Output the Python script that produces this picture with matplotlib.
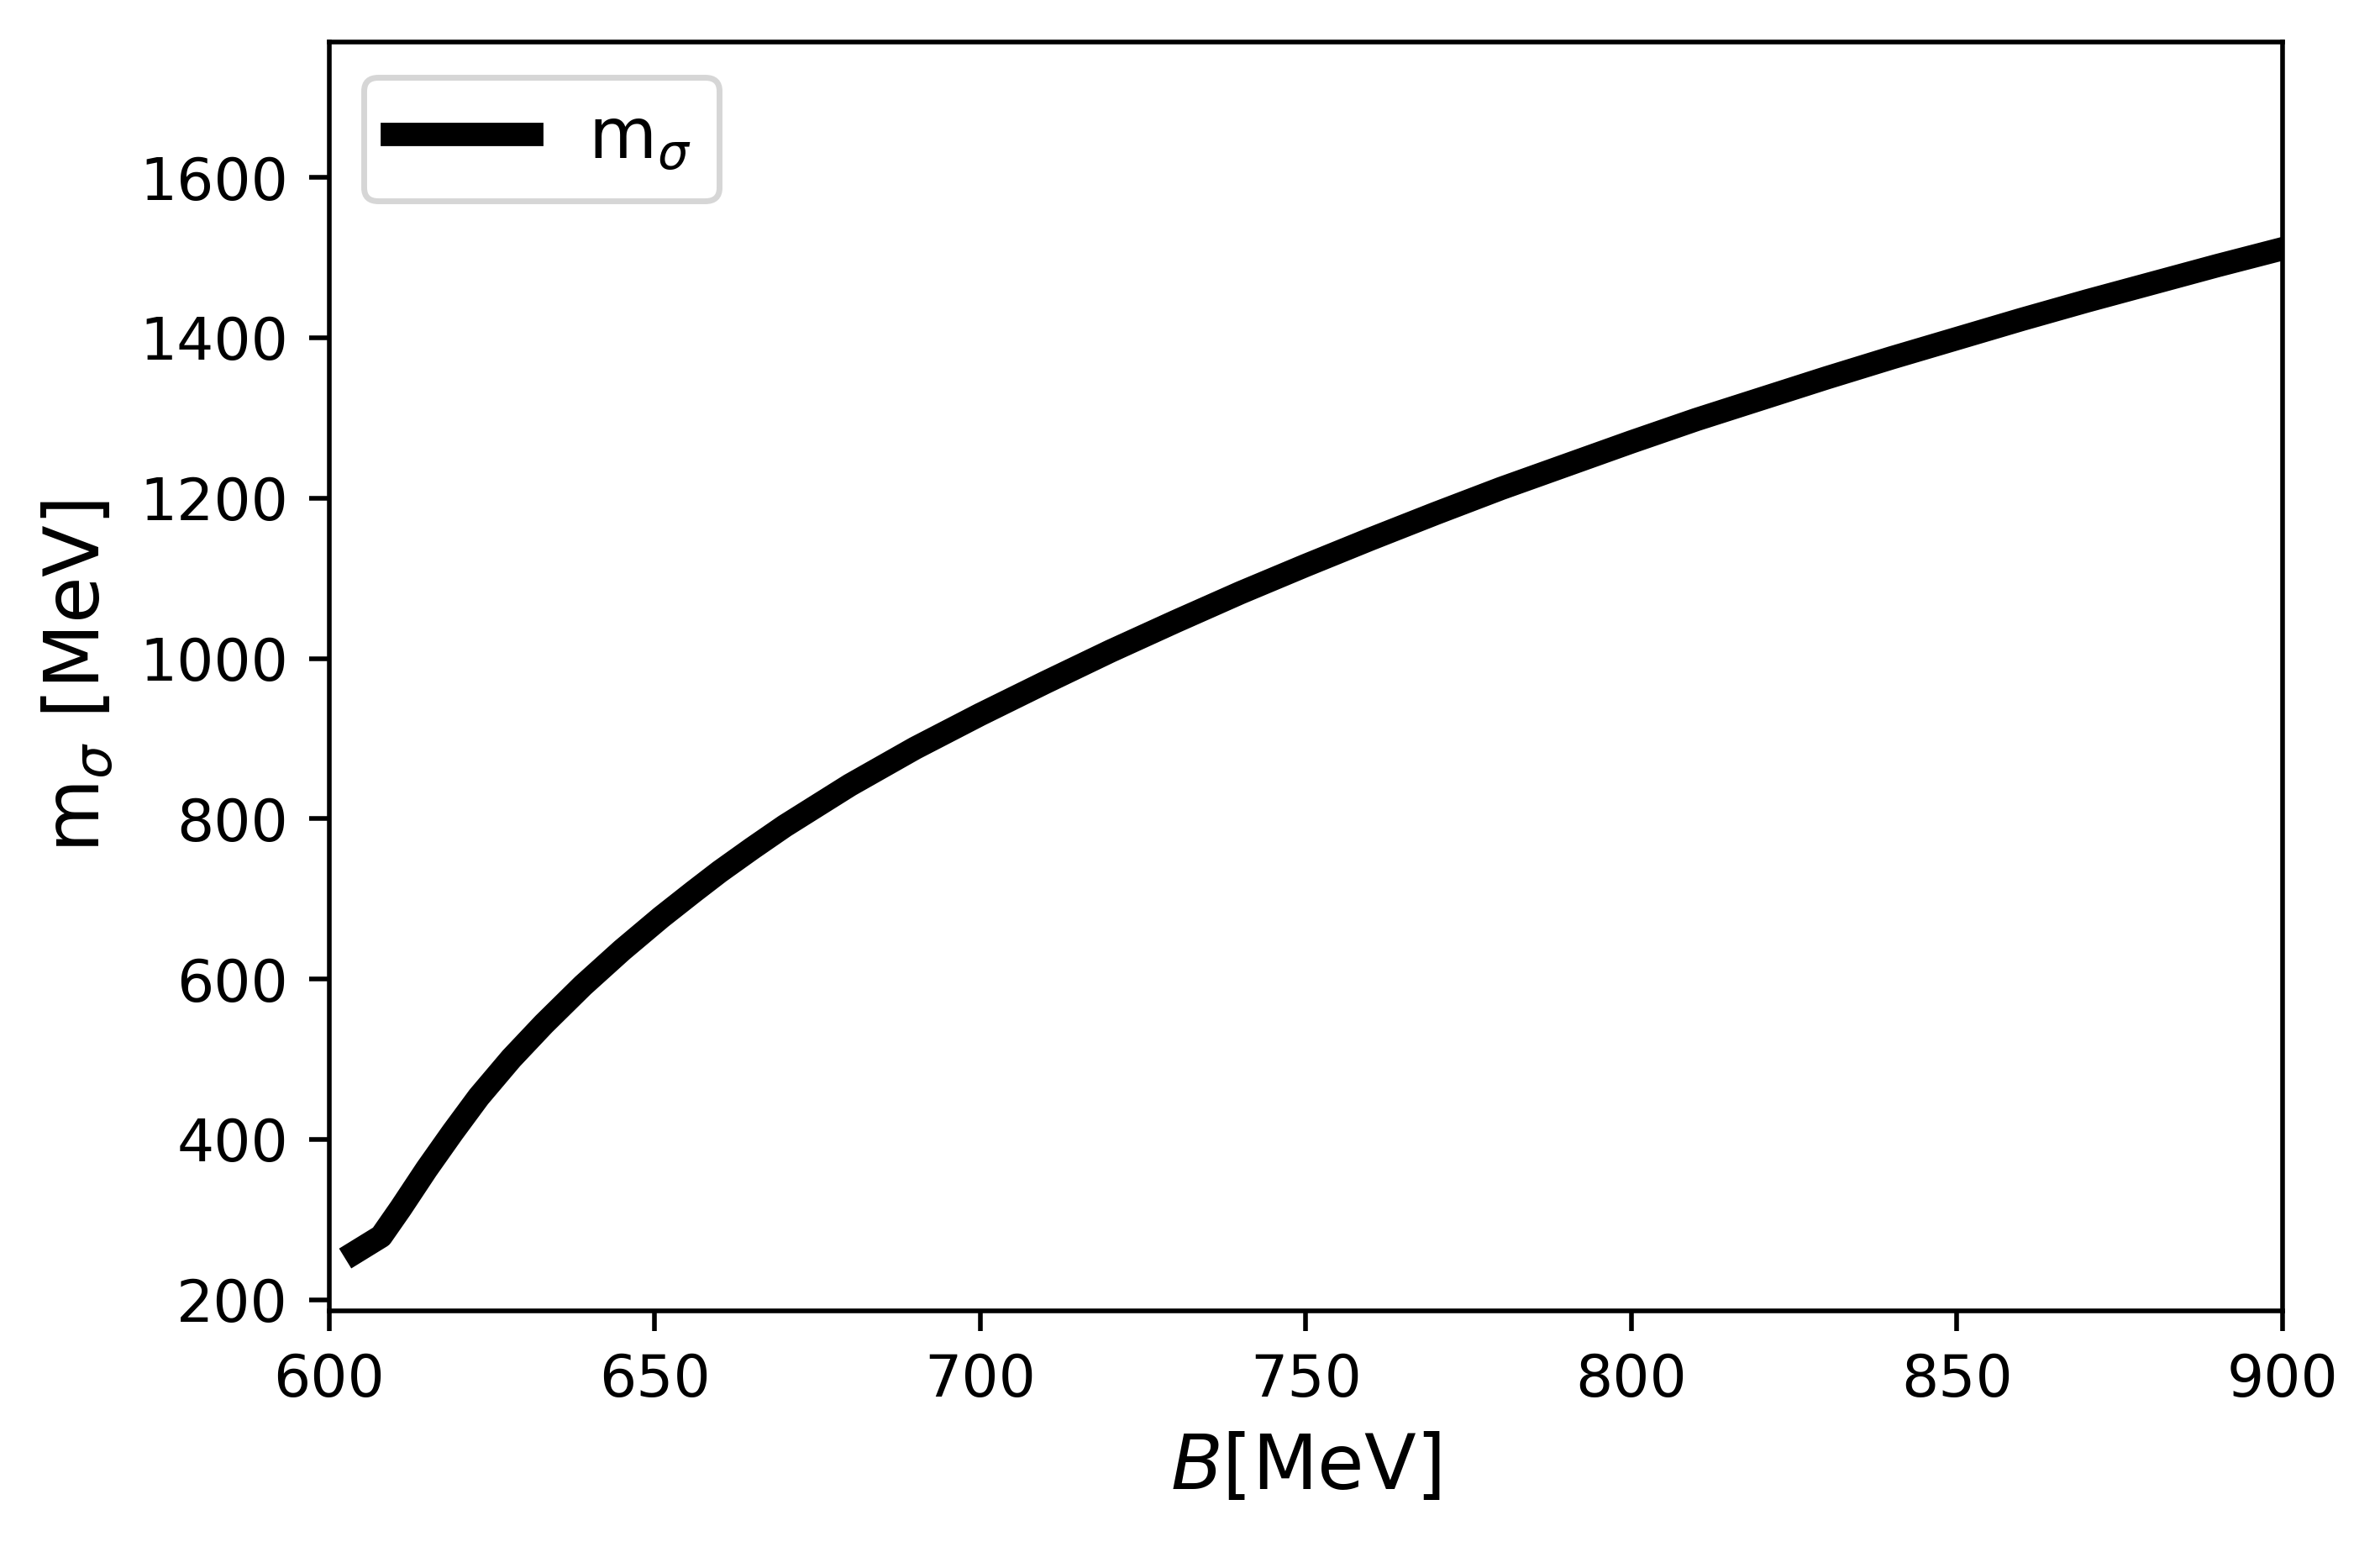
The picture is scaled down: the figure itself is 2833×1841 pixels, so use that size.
import numpy as np
import matplotlib
matplotlib.use('Agg')
import matplotlib.pyplot as plt

# values
B_vals = [604, 608, 611, 615, 619, 623, 628, 633, 639, 645, 651, 656, 660, 665, 670,
          680, 690, 700, 710, 720, 730, 740, 750, 760, 770, 780, 790, 800, 810, 820,
          830, 840, 850, 860, 870, 880, 890, 900]
m_sigma = [259, 279, 314, 363, 409, 453, 501, 544, 592, 636, 677, 709, 734, 763, 791,
           842, 888, 930, 970, 1009, 1046, 1082, 1116, 1149, 1181, 1212, 1241, 1270,
           1298, 1324, 1350, 1375, 1399, 1423, 1446, 1468, 1490, 1511]

fig = plt.figure(figsize=(2833/500., 1841/500.))
ax = fig.add_axes([391.7/2833, 1-1560/1841., (2716.7-391.7)/2833, (1560-50)/1841.])

ax.plot(B_vals, m_sigma, color='black', lw=4, label=r'm$_\sigma$')
ax.set_xlim(600, 900)
ax.set_ylim(186, 1769)
ax.set_yticks([200, 400, 600, 800, 1000, 1200, 1400, 1600])
ax.set_xlabel(r'$B$[MeV]', fontsize=13)
ax.set_ylabel(r'm$_\sigma$ [MeV]', fontsize=13)
ax.legend(loc='upper left', fontsize=12)

plt.savefig('out.png', dpi=500)
